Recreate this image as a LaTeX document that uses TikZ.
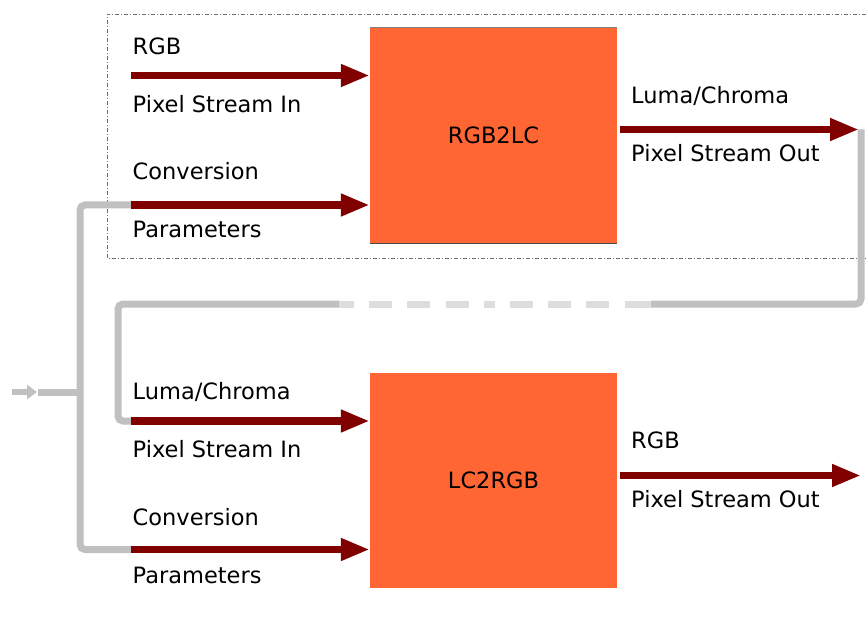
\documentclass[tikz,border=0pt]{standalone}
\usepackage{fontspec}
\setmainfont{DejaVu Sans}
\usetikzlibrary{arrows.meta}
\definecolor{boxorange}{RGB}{255,102,51}
\definecolor{darkred}{RGB}{128,0,0}
\definecolor{wiregray}{RGB}{192,192,192}
\definecolor{wirelight}{RGB}{221,221,221}
\definecolor{framegray}{RGB}{110,110,110}
\tikzset{
  procbox/.style={fill=boxorange, draw=none, minimum width=247pt, minimum height=215pt, inner sep=0pt, font=\fontsize{22.5}{26}\selectfont},
  redarrow/.style={draw=darkred, line width=7.5pt, -{Triangle[length=29pt,width=21pt]}},
  wire/.style={draw=wiregray, line width=7pt, rounded corners=5pt},
  wiredash/.style={draw=wirelight, line width=7pt, dash pattern=on 15pt off 15pt on 23pt off 15pt on 23pt off 16pt on 23pt off 15pt on 11pt off 15pt on 23pt off 15pt on 23pt off 15pt on 23pt off 16pt on 26pt off 0pt},
  lbl/.style={anchor=base west, inner sep=0pt, font=\fontsize{22.5}{26}\selectfont},
  frame/.style={draw=framegray, line width=0.8pt, dash pattern=on 4pt off 2pt on 1pt off 2pt}
}
\begin{document}
\begin{tikzpicture}[x=1pt,y=-1pt]
\useasboundingbox (0,0) rectangle (866,617);
% dashed frame
\draw[frame] (866,14) -- (107,14) -- (107,258) -- (866,258);
% boxes
\node[procbox] (rgb2lc) at (493.5,135.5) {RGB2LC};
\node[procbox] (lc2rgb) at (493.5,480.5) {LC2RGB};
\draw[gray, line width=1.2pt] (rgb2lc.north west) -- (rgb2lc.north east);
\draw[black!70, line width=1.2pt] (rgb2lc.south west) -- (rgb2lc.south east);
% coordinates
\coordinate (in1) at (131,75.5);
\coordinate (par1) at (131,205);
\coordinate (out1) at (859,129.5);
\coordinate (in2) at (131,421);
\coordinate (par2) at (131,549.5);
\coordinate (out2) at (861,475.5);
\coordinate (src) at (12,392);
\coordinate (srctip) at (37,392);
\coordinate (bus) at (38,392);
\coordinate (fbA) at (651,304);
\coordinate (fbB) at (339,304);
% gray wires
\draw[draw=wiregray, line width=6pt, -{Triangle[length=10pt,width=14pt]}] (src) -- (srctip);
\draw[wire] (bus) -- (80,392);
\draw[wire] (par1) -- (80,205) -- (80,549.5) -- (par2);
\draw[wire] (861,129.5) -- (861,304) -- (fbA);
\draw[wiredash] (fbB) -- (fbA);
\draw[wire] (fbB) -- (118,304) -- (118,421) -- (in2);
% red arrows
\draw[redarrow] (in1) -- (rgb2lc.west |- in1);
\draw[redarrow] (par1) -- (rgb2lc.west |- par1);
\draw[redarrow] ([xshift=3pt]rgb2lc.east |- out1) -- (out1);
\draw[redarrow] (in2) -- (lc2rgb.west |- in2);
\draw[redarrow] (par2) -- (lc2rgb.west |- par2);
\draw[redarrow] ([xshift=3pt]lc2rgb.east |- out2) -- (out2);
% labels
\node[lbl] (t1) at (132.5,54.3) {RGB};
\node[lbl] (t2) at (132.5,112.3) {Pixel Stream In};
\node[lbl] (t3) at (132.5,180) {Conversion};
\node[lbl] (t4) at (132.5,237.5) {Parameters};
\node[lbl] (t5) at (631,103.3) {Luma/Chroma};
\node[lbl] (t6) at (631,161.7) {Pixel Stream Out};
\node[lbl] (t7) at (132.5,399.8) {Luma/Chroma};
\node[lbl] (t8) at (132.5,457.8) {Pixel Stream In};
\node[lbl] (t9) at (132.5,525.5) {Conversion};
\node[lbl] (t10) at (132.5,583) {Parameters};
\node[lbl] (t11) at (631,448.8) {RGB};
\node[lbl] (t12) at (631,507.2) {Pixel Stream Out};
\end{tikzpicture}
\end{document}
